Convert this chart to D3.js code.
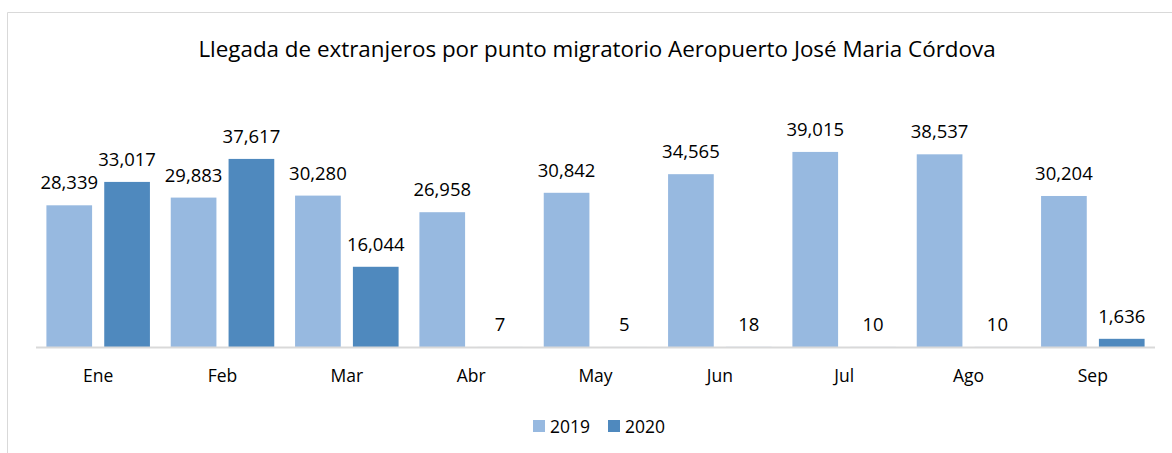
<!DOCTYPE html>
<meta charset="utf-8">
<script src="https://cdn.jsdelivr.net/npm/d3@7"></script>
<style>
  body { margin: 0; background: #fff; }
  text { font-family: "Open Sans", sans-serif; fill: #000; }
</style>
<body>
<script>

// data
var months = ["Ene", "Feb", "Mar", "Abr", "May", "Jun", "Jul", "Ago", "Sep"]
var series = ["2019", "2020"]
var values2019 = [28339, 29883, 30280, 26958, 30842, 34565, 39015, 38537, 30204]
var values2020 = [33017, 37617, 16044, 7, 5, 18, 10, 10, 1636]
var colors = ["#97b9e0", "#4f89be"]

var width = 1172
var height = 453

var svg = d3.select("body").append("svg")
    .attr("width", width)
    .attr("height", height)

// chart border (only top and left are visible)
svg.append("line").attr("x1", 7.5).attr("x2", width).attr("y1", 12.5).attr("y2", 12.5)
   .attr("stroke", "#d9d9d9").attr("stroke-width", 1)
svg.append("line").attr("x1", 7.5).attr("x2", 7.5).attr("y1", 12.5).attr("y2", height)
   .attr("stroke", "#d9d9d9").attr("stroke-width", 1)

svg.append("text")
   .attr("x", 597).attr("y", 57)
   .style("text-anchor", "middle")
   .style("font-size", "22.4px")
   .text("Llegada de extranjeros por punto migratorio Aeropuerto José Maria Córdova")

var x = d3.scaleBand().domain(months).range([36, 1155]).paddingInner(0).paddingOuter(0)
var xs = d3.scaleBand().domain(series).range([0, x.bandwidth()]).paddingInner(0.21).paddingOuter(0.18)
var y = d3.scaleLinear().domain([0, 45000]).range([347, 122])

var rows = months.map(function(m, i) {
  return [{m: m, s: "2019", v: values2019[i]}, {m: m, s: "2020", v: values2020[i]}]
})

var groups = svg.selectAll(".grp").data(rows).enter().append("g")
    .attr("class", "grp")
    .attr("transform", function(d) { return "translate(" + x(d[0].m) + ",0)" })

groups.selectAll("rect").data(function(d) { return d }).enter().append("rect")
    .attr("x", function(d) { return xs(d.s) })
    .attr("width", xs.bandwidth())
    .attr("y", function(d) { return y(d.v) })
    .attr("height", function(d) { return y(0) - y(d.v) })
    .attr("fill", function(d, i) { return colors[i] })

groups.selectAll(".lbl").data(function(d) { return d }).enter().append("text")
    .attr("class", "lbl")
    .attr("x", function(d) { return xs(d.s) + xs.bandwidth() / 2 })
    .attr("y", function(d) { return y(d.v) - 16 })
    .style("text-anchor", "middle")
    .style("font-size", "18.5px")
    .text(function(d) { return d3.format(",")(d.v) })

// baseline
svg.append("line").attr("x1", 36).attr("x2", 1155).attr("y1", y(0) + 0.5).attr("y2", y(0) + 0.5)
   .attr("stroke", "#d9d9d9").attr("stroke-width", 2)

svg.selectAll(".xl").data(months).enter().append("text")
    .attr("class", "xl")
    .attr("x", function(d) { return x(d) + x.bandwidth() / 2 })
    .attr("y", 382)
    .style("text-anchor", "middle")
    .style("font-size", "17.5px")
    .text(function(d) { return d })

// legend
var legendX = [533, 608]
var legend = svg.selectAll(".leg").data(series).enter().append("g")
    .attr("class", "leg")
    .attr("transform", function(d, i) { return "translate(" + legendX[i] + ",420)" })
legend.append("rect").attr("width", 12).attr("height", 12)
    .attr("fill", function(d, i) { return colors[i] })
legend.append("text").attr("x", 17).attr("y", 12.5)
    .style("font-size", "17.5px")
    .text(function(d) { return d })

</script>
</body>
